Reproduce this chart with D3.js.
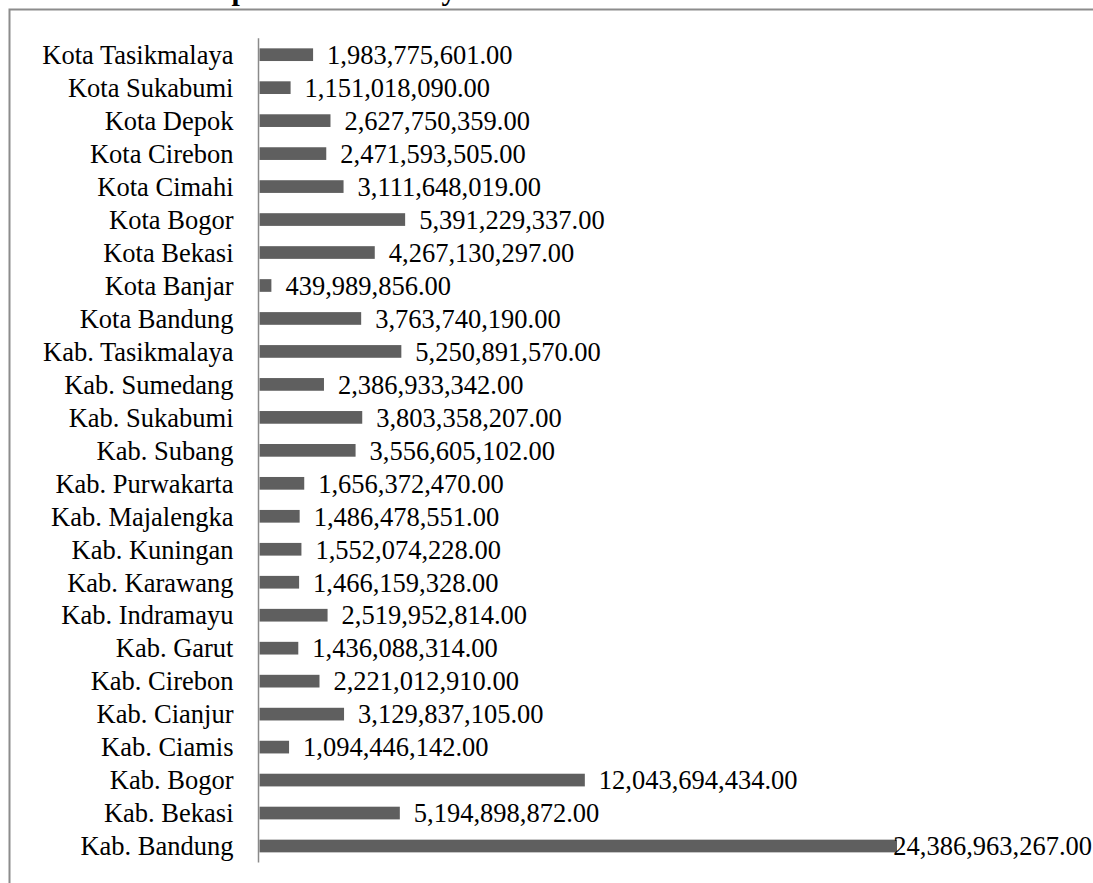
<!DOCTYPE html>
<html>
<head>
<meta charset="utf-8">
<script src="https://cdn.jsdelivr.net/npm/d3@7"></script>
<style>
  html, body { margin: 0; padding: 0; background: #fff; }
  svg { display: block; }
  text { font-family: "Liberation Serif", "Times New Roman", serif; fill: #000; }
</style>
</head>
<body>
<svg id="chart" width="1093" height="883"></svg>
<script>
// Region names, top to bottom as listed on the axis
const regions = [
  "Kota Tasikmalaya", "Kota Sukabumi", "Kota Depok", "Kota Cirebon", "Kota Cimahi",
  "Kota Bogor", "Kota Bekasi", "Kota Banjar", "Kota Bandung", "Kab. Tasikmalaya",
  "Kab. Sumedang", "Kab. Sukabumi", "Kab. Subang", "Kab. Purwakarta", "Kab. Majalengka",
  "Kab. Kuningan", "Kab. Karawang", "Kab. Indramayu", "Kab. Garut", "Kab. Cirebon",
  "Kab. Cianjur", "Kab. Ciamis", "Kab. Bogor", "Kab. Bekasi", "Kab. Bandung"
];

// Amount per region (Rp)
const amounts = [
  1983775601.00, 1151018090.00, 2627750359.00, 2471593505.00, 3111648019.00,
  5391229337.00, 4267130297.00, 439989856.00, 3763740190.00, 5250891570.00,
  2386933342.00, 3803358207.00, 3556605102.00, 1656372470.00, 1486478551.00,
  1552074228.00, 1466159328.00, 2519952814.00, 1436088314.00, 2221012910.00,
  3129837105.00, 1094446142.00, 12043694434.00, 5194898872.00, 24386963267.00
];

// Fixed maximum of the value axis; larger bars are cut at the plot edge
const axisMax = [23.6e9];

const titleText = ["Kabupaten/Kota/Wilayah Provinsi Jawa Barat Tahun 2008"];

const W = 1093, H = 883;
const svg = d3.select("#chart");

// chart-area frame
svg.append("rect")
  .attr("x", 9.5).attr("y", 9.5)
  .attr("width", W + 20).attr("height", H + 20)
  .attr("fill", "#fff")
  .attr("stroke", "#8c8c8c")
  .attr("stroke-width", 2);

// title (runs past the top edge)
svg.append("text")
  .attr("x", 534).attr("y", -0.5)
  .attr("text-anchor", "middle")
  .style("font-size", "29.6px")
  .style("font-weight", "bold")
  .text(titleText[0]);

const x = d3.scaleLinear()
  .domain([0, axisMax[0]])
  .range([259.5, 897])
  .clamp(true);

const y = d3.scaleBand()
  .domain(regions)
  .range([38.2, 862.5])
  .paddingInner(0.615)
  .paddingOuter(0.3075);

const rows = regions.map((r, i) => ({ name: r, value: amounts[i] }));
const fmt = d3.format(",.2f");

// bars
svg.append("g")
  .selectAll("rect")
  .data(rows)
  .join("rect")
  .attr("x", x(0))
  .attr("y", d => y(d.name))
  .attr("width", d => x(d.value) - x(0))
  .attr("height", y.bandwidth())
  .attr("fill", "#5f5f5f");

// category axis
const yAxis = svg.append("g")
  .attr("transform", "translate(258.5,0)")
  .call(d3.axisLeft(y).tickSize(0).tickPadding(25));
yAxis.select(".domain")
  .attr("d", `M0,${y.range()[0]}V${y.range()[1]}`)
  .attr("stroke", "#8a8a8a")
  .attr("stroke-width", 1.5);
yAxis.selectAll("text")
  .style("font-family", '"Liberation Serif", "Times New Roman", serif')
  .style("font-size", "26.5px")
  .attr("fill", "#000")
  .attr("dy", "0.35em");
yAxis.attr("font-size", null).attr("font-family", null);

// value labels
const labels = svg.append("g")
  .selectAll("text")
  .data(rows)
  .join("text")
  .style("font-size", "26.5px")
  .attr("y", d => y(d.name) + y.bandwidth() / 2)
  .attr("dy", "0.35em")
  .text(d => fmt(d.value));

labels.attr("x", function(d) {
  const w = this.getComputedTextLength();
  return Math.min(x(d.value) + 14, W - 1 - w);
});
</script>
</body>
</html>
